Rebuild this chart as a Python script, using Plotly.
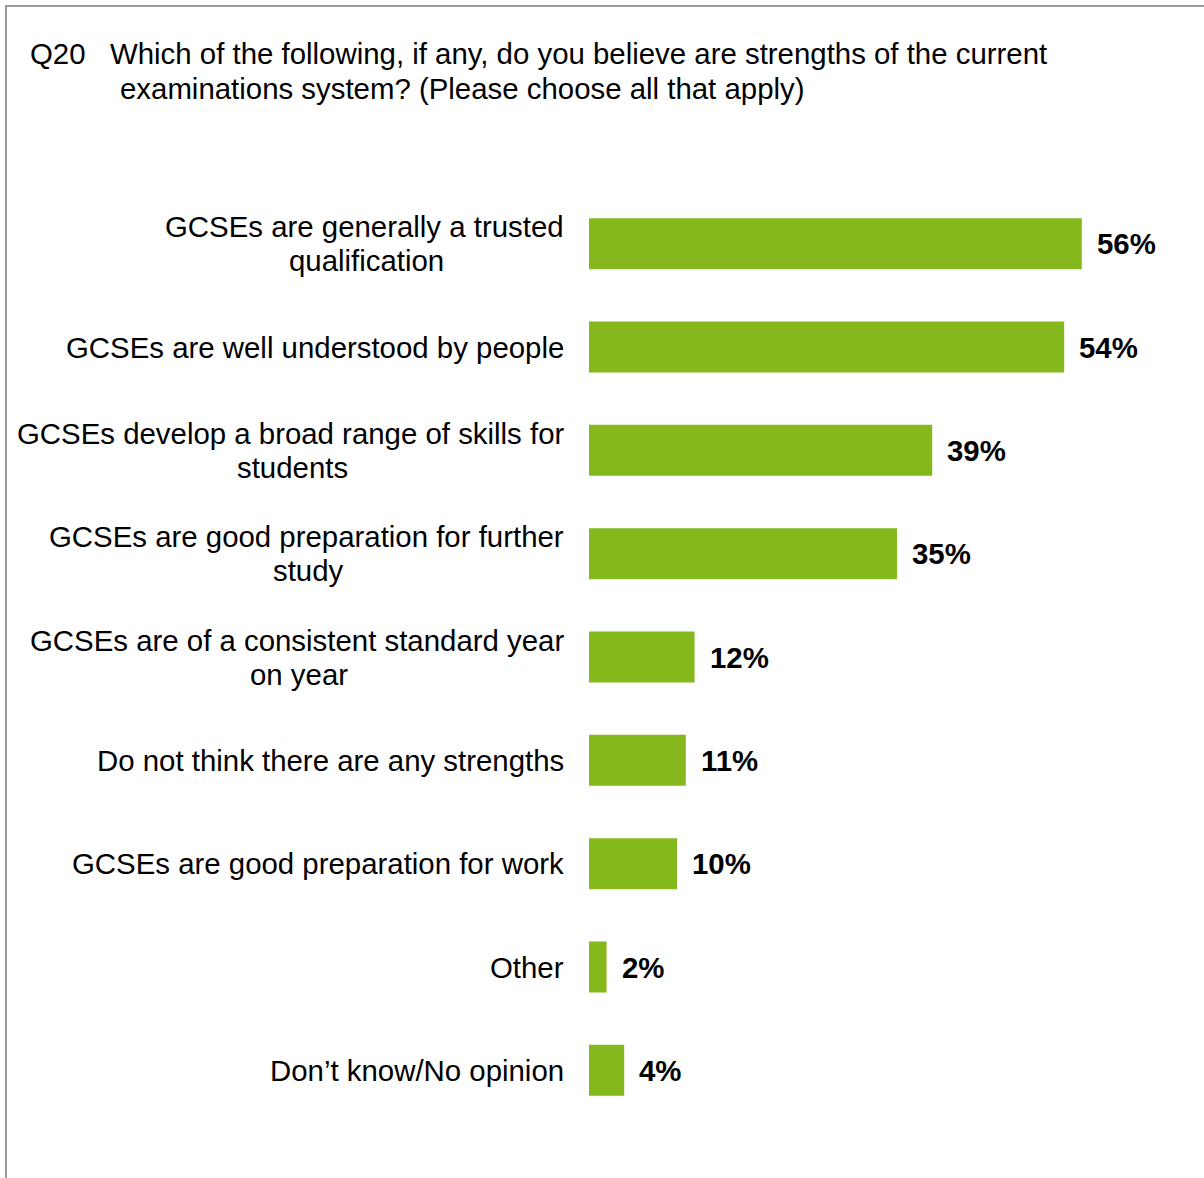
import plotly.graph_objects as go

categories = [
    "GCSEs are generally a trusted<br>qualification",
    "GCSEs are well understood by people",
    "GCSEs develop a broad range of skills for<br>students",
    "GCSEs are good preparation for further<br>study",
    "GCSEs are of a consistent standard year<br>on year",
    "Do not think there are any strengths",
    "GCSEs are good preparation for work",
    "Other",
    "Don’t know/No opinion",
]
values = [56, 54, 39, 35, 12, 11, 10, 2, 4]
value_labels = ["56%", "54%", "39%", "35%", "12%", "11%", "10%", "2%", "4%"]
title_q = "Q20"
title_line1 = "Which of the following, if any, do you believe are strengths of the current"
title_line2 = "examinations system? (Please choose all that apply)"

W, H = 1204, 1178
L, R, T, B = 589, 0, 192, 56
PW = W - L - R
PH = H - T - B
FONT = "Arial, Liberation Sans, sans-serif"
FS = 29.4
LINE_GAP = 34
GREEN = "#85B81D"

# Arial advance widths (per 1000 em) used to centre the second line of wrapped labels
_AW = {" ": 278, "'": 191, "’": 222, "/": 278, "?": 556, "(": 333, ")": 333, ",": 278, ".": 278}
for ch in "ABEKPSVXY": _AW[ch] = 667
for ch in "CDHNRUw": _AW[ch] = 722
for ch in "GOQ": _AW[ch] = 778
_AW.update({"F": 611, "T": 611, "Z": 611, "I": 278, "J": 500, "L": 556, "M": 833, "W": 944, "m": 833})
for ch in "abdeghnopqu0123456789": _AW[ch] = 556
for ch in "cksvxyz": _AW[ch] = 500
_AW.update({"f": 278, "t": 278, "i": 222, "j": 222, "l": 222, "r": 333})


def text_width(s, size):
    return sum(_AW.get(ch, 556) for ch in s) * size / 1000.0


ids = list(range(len(categories)))

fig = go.Figure()
fig.add_trace(go.Bar(
    x=values, y=ids, orientation="h",
    marker=dict(color=GREEN, line=dict(width=0)),
    width=0.493, hoverinfo="skip",
))

annotations = []
label_font = dict(family=FONT, size=FS, color="#000000")
XS = -23
for i, (c, v, t) in enumerate(zip(categories, values, value_labels)):
    lines = c.split("<br>")
    if len(lines) == 1:
        annotations.append(dict(
            x=0, y=i, xref="x", yref="y", text=lines[0], showarrow=False,
            xanchor="right", yanchor="middle", xshift=XS, font=label_font,
        ))
    else:
        w1 = text_width(lines[0], FS)
        annotations.append(dict(
            x=0, y=i, xref="x", yref="y", text=lines[0], showarrow=False,
            xanchor="right", yanchor="middle", xshift=XS, yshift=LINE_GAP / 2,
            font=label_font,
        ))
        annotations.append(dict(
            x=0, y=i, xref="x", yref="y", text=lines[1], showarrow=False,
            xanchor="center", yanchor="middle", xshift=XS - w1 / 2,
            yshift=-LINE_GAP / 2, font=label_font,
        ))
    annotations.append(dict(
        x=v, y=i, xref="x", yref="y", text="<b>" + t + "</b>", showarrow=False,
        xanchor="left", yanchor="middle", xshift=13,
        font=dict(family=FONT, size=FS, color="#000000"),
    ))


def px_x(px):
    return (px - L) / PW


def px_y(py):
    return (H - B - py) / PH


annotations.append(dict(x=px_x(28), y=px_y(54), xref="paper", yref="paper", text=title_q,
                        showarrow=False, xanchor="left", yanchor="middle", font=label_font))
annotations.append(dict(x=px_x(108), y=px_y(54), xref="paper", yref="paper", text=title_line1,
                        showarrow=False, xanchor="left", yanchor="middle", font=label_font))
annotations.append(dict(x=px_x(118), y=px_y(88), xref="paper", yref="paper", text=title_line2,
                        showarrow=False, xanchor="left", yanchor="middle", font=label_font))

fig.update_layout(
    width=W, height=H,
    margin=dict(l=L, r=R, t=T, b=B, pad=0),
    paper_bgcolor="white", plot_bgcolor="white",
    showlegend=False,
    xaxis=dict(range=[0, PW / 8.8], visible=False, fixedrange=True),
    yaxis=dict(range=[len(categories) - 0.5, -0.5], visible=False, fixedrange=True),
    annotations=annotations,
    shapes=[dict(type="rect", xref="paper", yref="paper",
                 x0=px_x(6), x1=px_x(1300), y0=px_y(1300), y1=px_y(6),
                 line=dict(color="#999999", width=2), fillcolor="rgba(0,0,0,0)", layer="below")],
)

fig.write_html("out.html")
